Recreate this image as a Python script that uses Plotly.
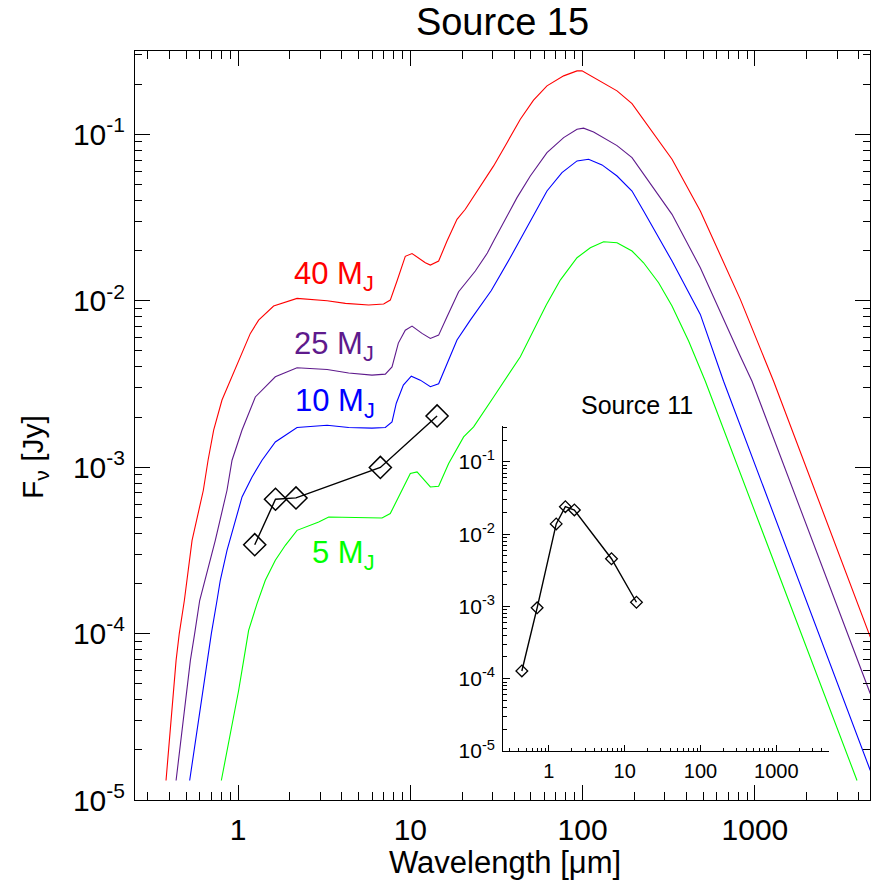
import plotly.graph_objects as go
import numpy as np

# ---------------- data (wavelength in micron, flux in Jy) ----------------
wl_40 = [0.382, 0.437, 0.456, 0.488, 0.541, 0.629, 0.670, 0.722, 0.807, 0.923, 1.055, 1.179, 1.317,
         1.609, 2.20, 3.29, 4.20, 5.73, 7.00, 7.65, 8.37, 9.35, 10.23, 11.17, 12.22, 13.07, 14.60,
         16.33, 18.66, 20.85, 24.39, 30.44, 36.4, 43.5, 51.9, 62.1, 77.6, 92.8, 99.2, 115.8, 158.4,
         193.5, 330.3, 482.1, 823, 1284, 4675]
fx_40 = [1.31e-5, 6.90e-5, 1.00e-4, 1.58e-4, 3.63e-4, 7.26e-4, 1.10e-3, 1.67e-3, 2.53e-3, 3.49e-3,
         4.82e-3, 6.36e-3, 7.64e-3, 9.28e-3, 1.032e-2, 9.99e-3, 9.63e-3, 9.41e-3, 9.54e-3, 1.008e-2,
         1.312e-2, 1.847e-2, 1.92e-2, 1.797e-2, 1.69e-2, 1.637e-2, 1.73e-2, 2.28e-2, 3.08e-2, 3.54e-2,
         4.56e-2, 6.45e-2, 8.90e-2, 0.1231, 0.1601, 0.1952, 0.2242, 0.2402, 0.2402, 0.2190, 0.1822,
         0.1528, 7.07e-2, 3.46e-2, 1.018e-2, 3.28e-3, 9.53e-5]

wl_25 = [0.437, 0.529, 0.560, 0.599, 0.738, 0.863, 0.923, 1.055, 1.260, 1.646, 2.20, 3.29, 4.385,
         5.99, 7.16, 7.83, 8.52, 9.35, 10.23, 11.69, 13.07, 14.60, 16.33, 19.07, 23.84, 27.99, 30.44,
         41.6, 49.7, 62.1, 77.6, 92.8, 101.3, 115.8, 158.4, 193.5, 330.3, 482.1, 823, 962, 4675]
fx_25 = [1.31e-5, 6.90e-5, 1.00e-4, 1.58e-4, 3.63e-4, 7.26e-4, 1.10e-3, 1.67e-3, 2.64e-3, 3.49e-3,
         3.95e-3, 3.86e-3, 3.68e-3, 3.57e-3, 3.62e-3, 4.00e-3, 5.56e-3, 6.65e-3, 7.04e-3, 6.36e-3,
         5.93e-3, 6.21e-3, 8.00e-3, 1.131e-2, 1.507e-2, 1.932e-2, 2.28e-2, 4.16e-2, 5.61e-2, 7.75e-2,
         9.54e-2, 0.1072, 0.1087, 0.1032, 8.54e-2, 7.23e-2, 3.30e-2, 1.577e-2, 4.64e-3, 3.28e-3, 4.35e-5]

wl_10 = [0.524, 0.661, 0.700, 0.755, 0.789, 0.863, 0.943, 1.055, 1.206, 1.378, 1.646, 2.20, 3.29,
         4.385, 5.99, 7.16, 7.83, 8.29, 9.11, 10.13, 11.43, 13.07, 14.60, 16.33, 18.66, 22.29, 29.52,
         38.05, 46.5, 51.9, 62.1, 75.9, 92.8, 108.3, 129.6, 158.4, 193.5, 225.9, 330.3, 482.1, 658, 4675]
fx_10 = [1.31e-5, 6.90e-5, 1.00e-4, 1.58e-4, 2.09e-4, 3.16e-4, 4.37e-4, 6.62e-4, 8.73e-4, 1.10e-3,
         1.417e-3, 1.73e-3, 1.786e-3, 1.73e-3, 1.714e-3, 1.73e-3, 1.87e-3, 2.42e-3, 3.11e-3, 3.52e-3,
         3.33e-3, 3.04e-3, 3.17e-3, 4.20e-3, 5.80e-3, 7.64e-3, 1.15e-2, 1.816e-2, 2.66e-2, 3.30e-2,
         4.56e-2, 5.88e-2, 6.91e-2, 7.07e-2, 6.54e-2, 5.61e-2, 4.56e-2, 3.46e-2, 1.73e-2, 8.27e-3,
         3.28e-3, 1.504e-5]

wl_5 = [0.800, 0.902, 1.008, 1.078, 1.152, 1.289, 1.440, 1.646, 1.882, 2.20, 2.94, 3.36, 6.85, 7.65,
        8.75, 10.0, 10.94, 13.07, 14.60, 16.69, 20.39, 23.30, 30.44, 43.5, 61.5, 74.2, 92.8, 110.8,
        132.4, 158.4, 193.5, 225.9, 276.1, 330.3, 412.3, 515.5, 3914]
fx_5 = [1.31e-5, 2.50e-5, 4.55e-5, 6.90e-5, 1.045e-4, 1.513e-4, 2.09e-4, 2.76e-4, 3.39e-4, 4.17e-4,
        4.68e-4, 5.02e-4, 4.95e-4, 5.26e-4, 6.94e-4, 9.15e-4, 9.36e-4, 7.60e-4, 7.67e-4, 1.051e-3,
        1.519e-3, 1.744e-3, 2.64e-3, 4.60e-3, 9.41e-3, 1.33e-2, 1.811e-2, 2.08e-2, 2.26e-2, 2.23e-2,
        1.988e-2, 1.69e-2, 1.281e-2, 9.28e-3, 5.72e-3, 3.28e-3, 1.31e-5]

src15_wl = [1.25, 1.65, 2.17, 6.7, 14.3]
src15_fx = [3.42e-4, 6.41e-4, 6.53e-4, 9.95e-4, 2.03e-3]

src11_wl = [0.44, 0.70, 1.25, 1.65, 2.17, 6.7, 14.3]
src11_fx = [1.28e-4, 9.57e-4, 1.386e-2, 2.40e-2, 2.16e-2, 4.57e-3, 1.143e-3]

model_names = ["40 M<sub>J</sub>", "25 M<sub>J</sub>", "10 M<sub>J</sub>", "5 M<sub>J</sub>"]
model_colors = ["#FF0000", "#5E1A8C", "#0000FF", "#00FF00"]

x_major = [1, 10, 100, 1000]
x_major_text = ["1", "10", "100", "1000"]
y_major = [1e-5, 1e-4, 1e-3, 1e-2, 1e-1]
y_major_text = ["10<sup>-5</sup>", "10<sup>-4</sup>", "10<sup>-3</sup>", "10<sup>-2</sup>", "10<sup>-1</sup>"]

FONT = "Liberation Sans, Arial, Helvetica, sans-serif"

# minor tick positions (axis decoration)
x_minor = [m * 10.0 ** k for k in range(-1, 4) for m in range(2, 10)]
y_minor = [m * 10.0 ** k for k in range(-6, 0) for m in range(2, 10)]

fig = go.Figure()

curves = [(wl_40, fx_40), (wl_25, fx_25), (wl_10, fx_10), (wl_5, fx_5)]
for (wl, fx), col in zip(curves, model_colors):
    fig.add_trace(go.Scatter(x=wl, y=fx, mode="lines", line=dict(color=col, width=1.1),
                             xaxis="x", yaxis="y", showlegend=False, hoverinfo="skip"))

fig.add_trace(go.Scatter(x=src15_wl, y=src15_fx, mode="lines+markers",
                         line=dict(color="black", width=1.4),
                         marker=dict(symbol="diamond-open", size=17, color="black",
                                     line=dict(color="black", width=1.5)),
                         xaxis="x", yaxis="y", showlegend=False))

fig.add_trace(go.Scatter(x=src11_wl, y=src11_fx, mode="lines+markers",
                         line=dict(color="black", width=1.4),
                         marker=dict(symbol="diamond-open", size=9, color="black",
                                     line=dict(color="black", width=1.3)),
                         xaxis="x2", yaxis="y2", showlegend=False))

W, H = 871, 886
L, R, T, B = 135, 1, 51, 86

common_main = dict(type="log", showgrid=False, zeroline=False, showline=True, linecolor="black",
                   linewidth=1, mirror="allticks", ticks="inside", tickcolor="black", ticklen=15,
                   tickwidth=1, automargin=False,
                   tickfont=dict(family=FONT, size=30, color="black"))

fig.update_layout(
    width=W, height=H,
    margin=dict(l=L, r=R, t=T, b=B, autoexpand=False),
    plot_bgcolor="rgba(0,0,0,0)", paper_bgcolor="white",
    showlegend=False,
    title=dict(text="Source 15", x=0.5, xref="paper", xanchor="center",
               y=1 - 22 / H, yref="container", yanchor="middle", automargin=False,
               font=dict(family=FONT, size=38, color="black")),
    xaxis=dict(range=[-0.598, 3.668], tickvals=x_major, ticktext=x_major_text,
               ticklabelstandoff=3,
               minor=dict(tickvals=x_minor, ticks="inside", ticklen=8, tickcolor="black", tickwidth=1),
               **common_main),
    yaxis=dict(range=[-5, -0.5], tickvals=y_major, ticktext=y_major_text,
               ticklabelstandoff=3,
               minor=dict(tickvals=y_minor, ticks="inside", ticklen=7, tickcolor="black", tickwidth=1),
               **common_main),
    xaxis2=dict(type="log", domain=[0.501, 0.9446], anchor="y2", range=[-0.602, 3.699],
                showgrid=False, zeroline=False, showline=True, linecolor="black", linewidth=1,
                automargin=False,
                ticks="inside", ticklen=6, tickcolor="black", tickvals=x_major, ticktext=x_major_text,
                tickfont=dict(family=FONT, size=20, color="black"), ticklabelstandoff=2,
                minor=dict(tickvals=x_minor, ticks="inside", ticklen=3, tickcolor="black")),
    yaxis2=dict(type="log", domain=[0.0654, 0.4997], anchor="x2", range=[-5, -0.5],
                showgrid=False, zeroline=False, showline=True, linecolor="black", linewidth=1,
                automargin=False,
                ticks="inside", ticklen=7, tickcolor="black", tickvals=y_major, ticktext=y_major_text,
                tickfont=dict(family=FONT, size=21, color="black"), ticklabelstandoff=3,
                minor=dict(tickvals=y_minor, ticks="inside", ticklen=4, tickcolor="black")),
)

# model labels
label_pos = [(0.2132, 0.699), (0.2132, 0.6055), (0.2154, 0.5294), (0.2381, 0.3271)]
for name, col, (px, py) in zip(model_names, model_colors, label_pos):
    fig.add_annotation(text=name, x=px, y=py, xref="paper", yref="paper", xanchor="left",
                       yanchor="middle", showarrow=False,
                       font=dict(family=FONT, size=31, color=col))

# inset title
fig.add_annotation(text="Source 11", x=0.6826, y=0.5274, xref="paper", yref="paper",
                   xanchor="center", yanchor="middle", showarrow=False,
                   font=dict(family=FONT, size=25, color="black"))

# axis titles
fig.add_annotation(text="Wavelength [μm]", x=0.5034, y=-0.0828, xref="paper", yref="paper",
                   xanchor="center", yanchor="middle", showarrow=False,
                   font=dict(family=FONT, size=31, color="black"))
fig.add_annotation(text="F<sub>ν</sub> [Jy]", x=-0.136, y=0.458, xref="paper", yref="paper",
                   xanchor="center", yanchor="middle", showarrow=False, textangle=-90,
                   font=dict(family=FONT, size=30, color="black"))

fig.write_html("out.html", config={"displayModeBar": False},
               post_script="document.body.style.margin='0px';document.body.style.overflow='hidden';")
